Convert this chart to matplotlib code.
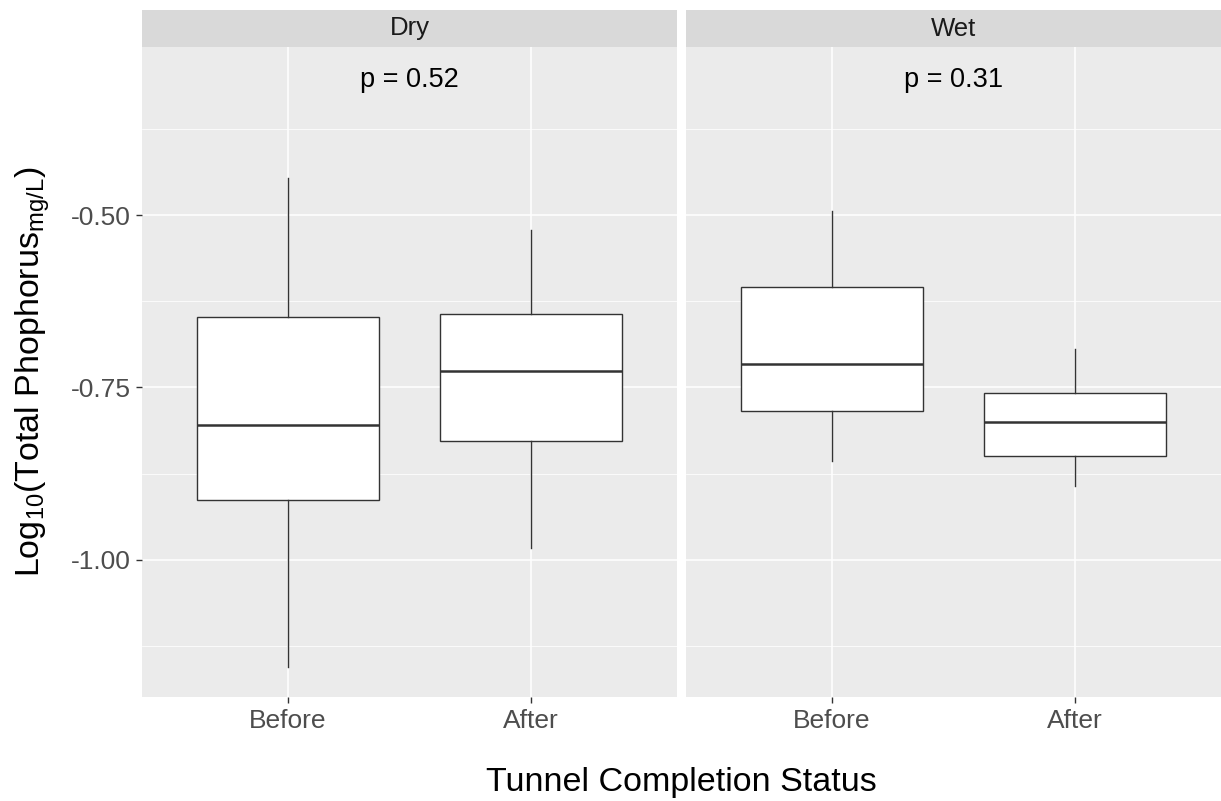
import numpy as np
import matplotlib
matplotlib.use("Agg")
import matplotlib.pyplot as plt
from matplotlib.ticker import FixedLocator

plt.rcParams['font.family'] = ['Liberation Sans', 'DejaVu Sans']
plt.rcParams['mathtext.fontset'] = 'custom'
plt.rcParams['mathtext.rm'] = 'Liberation Sans'
plt.rcParams['mathtext.it'] = 'Liberation Sans'

# data
panels = ["Dry", "Wet"]
groups = ["Before", "After"]
p_values = ["p = 0.52", "p = 0.31"]
whislo = {"Dry": [-1.155, -0.983], "Wet": [-0.857, -0.893]}
q1 = {"Dry": [-0.913, -0.828], "Wet": [-0.784, -0.849]}
med = {"Dry": [-0.804, -0.726], "Wet": [-0.716, -0.800]}
q3 = {"Dry": [-0.648, -0.644], "Wet": [-0.604, -0.758]}
whishi = {"Dry": [-0.446, -0.522], "Wet": [-0.494, -0.694]}

ylim = (-1.1986, -0.2565)
major = [-1.0, -0.75, -0.5]
minor = [-1.125, -0.875, -0.625, -0.375]

fig = plt.figure(figsize=(12.21, 8.01), dpi=100)
W, H = 1221, 801
lefts = [142, 686]
pw = 535
top, bottom = 47, 697
strip_top = 10

for k, name in enumerate(panels):
    ax = fig.add_axes([lefts[k] / W, 1 - bottom / H, pw / W, (bottom - top) / H])
    ax.set_facecolor('#EBEBEB')
    for s in ax.spines.values():
        s.set_visible(False)
    stats = []
    for i, g in enumerate(groups):
        stats.append(dict(whislo=whislo[name][i], q1=q1[name][i], med=med[name][i],
                          q3=q3[name][i], whishi=whishi[name][i], fliers=[], label=g))
    ax.set_axisbelow(True)
    ax.yaxis.set_major_locator(FixedLocator(major))
    ax.yaxis.set_minor_locator(FixedLocator(minor))
    ax.grid(which='major', color='white', linewidth=1.1)
    ax.grid(which='minor', color='white', linewidth=0.55)
    ax.bxp(stats, positions=[1, 2], widths=0.75, showcaps=False, patch_artist=True,
           boxprops=dict(facecolor='white', edgecolor='#333333', linewidth=1.0),
           medianprops=dict(color='#333333', linewidth=1.8),
           whiskerprops=dict(color='#333333', linewidth=1.0))
    ax.set_xlim(0.4, 2.6)
    ax.set_ylim(*ylim)
    ax.set_xticks([1, 2])
    ax.set_xticklabels(groups)
    ax.tick_params(axis='both', which='major', colors='#333333', labelcolor='#4D4D4D',
                   labelsize=19, length=4, width=1)
    ax.tick_params(axis='both', which='minor', length=0)
    ax.tick_params(axis='x', pad=5)
    ax.tick_params(axis='y', pad=4)
    ax.yaxis.set_major_formatter(matplotlib.ticker.FormatStrFormatter('%.2f'))
    if k == 1:
        ax.tick_params(axis='y', which='both', left=False, labelleft=False)
    ax.text(1.5, -0.3043, p_values[k], ha='center', va='center', fontsize=19.5, color='black')

    # strip
    sax = fig.add_axes([lefts[k] / W, 1 - top / H, pw / W, (top - strip_top) / H])
    sax.set_facecolor('#D9D9D9')
    sax.set_xticks([])
    sax.set_yticks([])
    for s in sax.spines.values():
        s.set_visible(False)
    sax.text(0.5, 0.5, name, ha='center', va='center', fontsize=18.5, color='#1A1A1A',
             transform=sax.transAxes)

fig.text(681 / W, 1 - 783 / H, 'Tunnel Completion Status', ha='center', va='center',
         fontsize=24.5, color='black')
fig.text(33 / W, 1 - 372 / H, r'Log$_{10}$(Total Phophorus$_{\mathrm{mg/L}}$)',
         ha='center', va='center', rotation=90, fontsize=24.5, color='black')

fig.savefig('out.png', dpi=100)
